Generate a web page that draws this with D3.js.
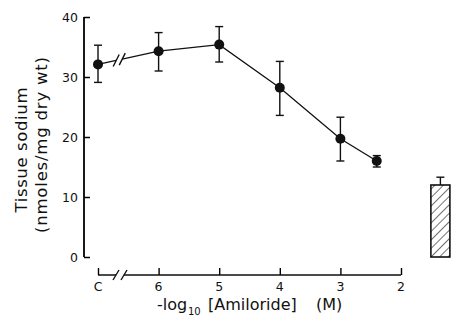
<!DOCTYPE html>
<html>
<head>
<meta charset="utf-8">
<script src="https://cdn.jsdelivr.net/npm/d3@7"></script>
<style>
  body { margin: 0; background: #fff; }
  text { font-family: "DejaVu Sans", "Liberation Sans", Arial, sans-serif; fill: #111; }
</style>
</head>
<body>
<script>
// -log10 [amiloride]; 7 stands in for the control "C"
var conc     = [7, 6, 5, 4, 3, 2.4];
var sodium   = [32.1, 34.3, 35.4, 28.2, 19.7, 16.0];
var errHi    = [35.3, 37.4, 38.4, 32.6, 23.3, 16.9];
var errLo    = [29.1, 31.0, 32.5, 23.6, 16.0, 15.0];
var xTicks   = [7, 6, 5, 4, 3, 2];
var xLabels  = ["C", "6", "5", "4", "3", "2"];
var yTicks   = [0, 10, 20, 30, 40];
// hatched bar to the right of the axis
var barPos   = [1.35];
var barVal   = [12.0];
var barErr   = [13.3];

var width = 452, height = 321;

var x = d3.scaleLinear().domain([7, 2]).range([98, 401]);
var y = d3.scaleLinear().domain([0, 40]).range([257, 17]);

var svg = d3.select("body").append("svg")
    .attr("width", width)
    .attr("height", height);

var defs = svg.append("defs");
var pat = defs.append("pattern")
    .attr("id", "hatch")
    .attr("patternUnits", "userSpaceOnUse")
    .attr("width", 6)
    .attr("height", 6)
    .attr("patternTransform", "rotate(45)");
pat.append("line")
    .attr("x1", 0).attr("y1", 0).attr("x2", 0).attr("y2", 6)
    .attr("stroke", "#111").attr("stroke-width", 1.2);

// y axis
var yAxis = svg.append("g")
    .attr("transform", "translate(84,0)")
    .call(d3.axisRight(y).tickValues(yTicks).tickSize(6).tickFormat(""));
yAxis.select(".domain").attr("d", "M0," + y(40) + "V" + y(0)).attr("stroke-width", 1.8);
yAxis.selectAll(".tick line").attr("stroke-width", 1.5);
yAxis.selectAll(".tick text").remove();

svg.append("g").selectAll("text")
    .data(yTicks)
    .enter()
    .append("text")
    .attr("x", 78)
    .attr("y", function (d) { return y(d) + 5; })
    .attr("text-anchor", "end")
    .attr("font-size", 12.5)
    .text(function (d) { return d; });

// x axis
var xAxisY = 275;
var xAxis = svg.append("g")
    .attr("transform", "translate(0," + xAxisY + ")")
    .call(d3.axisTop(x).tickValues(xTicks).tickSize(7).tickFormat(""));
xAxis.select(".domain").remove();
xAxis.selectAll(".tick line").attr("stroke-width", 1.4);
xAxis.append("path")
    .attr("d", "M" + x(7) + ",0H116M124,0H" + x(2))
    .attr("stroke", "#111").attr("stroke-width", 1.6).attr("fill", "none");
xAxis.append("path")
    .attr("d", "M113,5L119,-5M121,5L127,-5")
    .attr("stroke", "#111").attr("stroke-width", 1.4).attr("fill", "none");

svg.append("g").selectAll("text")
    .data(xTicks)
    .enter()
    .append("text")
    .attr("x", function (d) { return x(d); })
    .attr("y", 291)
    .attr("text-anchor", "middle")
    .attr("font-size", 12.5)
    .text(function (d, i) { return xLabels[i]; });

// x title
var xt = svg.append("g").attr("font-size", 16);
xt.append("text").attr("x", 157).attr("y", 310).text("-log");
xt.append("text").attr("x", 188).attr("y", 315).attr("font-size", 10).text("10");
xt.append("text").attr("x", 208).attr("y", 310).text("[Amiloride]");
xt.append("text").attr("x", 316).attr("y", 310).text("(M)");

// y titles
svg.append("text")
    .attr("transform", "translate(27,150) rotate(-90)")
    .attr("text-anchor", "middle")
    .attr("font-size", 16.5)
    .attr("textLength", 125).attr("lengthAdjust", "spacing")
    .text("Tissue sodium");
svg.append("text")
    .attr("transform", "translate(47,145) rotate(-90)")
    .attr("text-anchor", "middle")
    .attr("font-size", 16.5)
    .attr("textLength", 176).attr("lengthAdjust", "spacing")
    .text("(nmoles/mg dry wt)");

// line, with a break between C and 6
var pts = conc.map(function (c, i) { return [x(c), y(sodium[i])]; });
var line = d3.line();
svg.append("path")
    .attr("d", line(pts.slice(1)))
    .attr("fill", "none").attr("stroke", "#111").attr("stroke-width", 1.3);
var p0 = pts[0], p1 = pts[1];
function along(t) { return [p0[0] + (p1[0] - p0[0]) * t, p0[1] + (p1[1] - p0[1]) * t]; }
svg.append("path")
    .attr("d", line([p0, along(0.3)]) + line([along(0.4), p1]))
    .attr("fill", "none").attr("stroke", "#111").attr("stroke-width", 1.3);
[0.3, 0.4].forEach(function (t) {
    var p = along(t);
    svg.append("line")
        .attr("x1", p[0] - 3).attr("y1", p[1] + 6)
        .attr("x2", p[0] + 3).attr("y2", p[1] - 6)
        .attr("stroke", "#111").attr("stroke-width", 1.4);
});

// error bars
var eb = svg.append("g").selectAll("g")
    .data(conc)
    .enter()
    .append("g");
eb.append("line")
    .attr("x1", function (d) { return x(d); })
    .attr("x2", function (d) { return x(d); })
    .attr("y1", function (d, i) { return y(errHi[i]); })
    .attr("y2", function (d, i) { return y(errLo[i]); })
    .attr("stroke", "#111").attr("stroke-width", 1.4);
eb.append("line")
    .attr("x1", function (d) { return x(d) - 4; })
    .attr("x2", function (d) { return x(d) + 4; })
    .attr("y1", function (d, i) { return y(errHi[i]); })
    .attr("y2", function (d, i) { return y(errHi[i]); })
    .attr("stroke", "#111").attr("stroke-width", 1.4);
eb.append("line")
    .attr("x1", function (d) { return x(d) - 4; })
    .attr("x2", function (d) { return x(d) + 4; })
    .attr("y1", function (d, i) { return y(errLo[i]); })
    .attr("y2", function (d, i) { return y(errLo[i]); })
    .attr("stroke", "#111").attr("stroke-width", 1.4);

svg.append("g").selectAll("circle")
    .data(conc)
    .enter()
    .append("circle")
    .attr("cx", function (d) { return x(d); })
    .attr("cy", function (d, i) { return y(sodium[i]); })
    .attr("r", 5)
    .attr("fill", "#111");

// hatched bar
var bw = 19;
var bars = svg.append("g").selectAll("g")
    .data(barPos)
    .enter()
    .append("g");
bars.append("line")
    .attr("x1", function (d) { return x(d); })
    .attr("x2", function (d) { return x(d); })
    .attr("y1", function (d, i) { return y(barErr[i]); })
    .attr("y2", function (d, i) { return y(barVal[i]); })
    .attr("stroke", "#111").attr("stroke-width", 1.4);
bars.append("line")
    .attr("x1", function (d) { return x(d) - 4; })
    .attr("x2", function (d) { return x(d) + 4; })
    .attr("y1", function (d, i) { return y(barErr[i]); })
    .attr("y2", function (d, i) { return y(barErr[i]); })
    .attr("stroke", "#111").attr("stroke-width", 1.4);
bars.append("rect")
    .attr("x", function (d) { return x(d) - bw / 2; })
    .attr("y", function (d, i) { return y(barVal[i]); })
    .attr("width", bw)
    .attr("height", function (d, i) { return y(0) - y(barVal[i]); })
    .attr("fill", "url(#hatch)")
    .attr("stroke", "#111").attr("stroke-width", 1.6);
</script>
</body>
</html>
